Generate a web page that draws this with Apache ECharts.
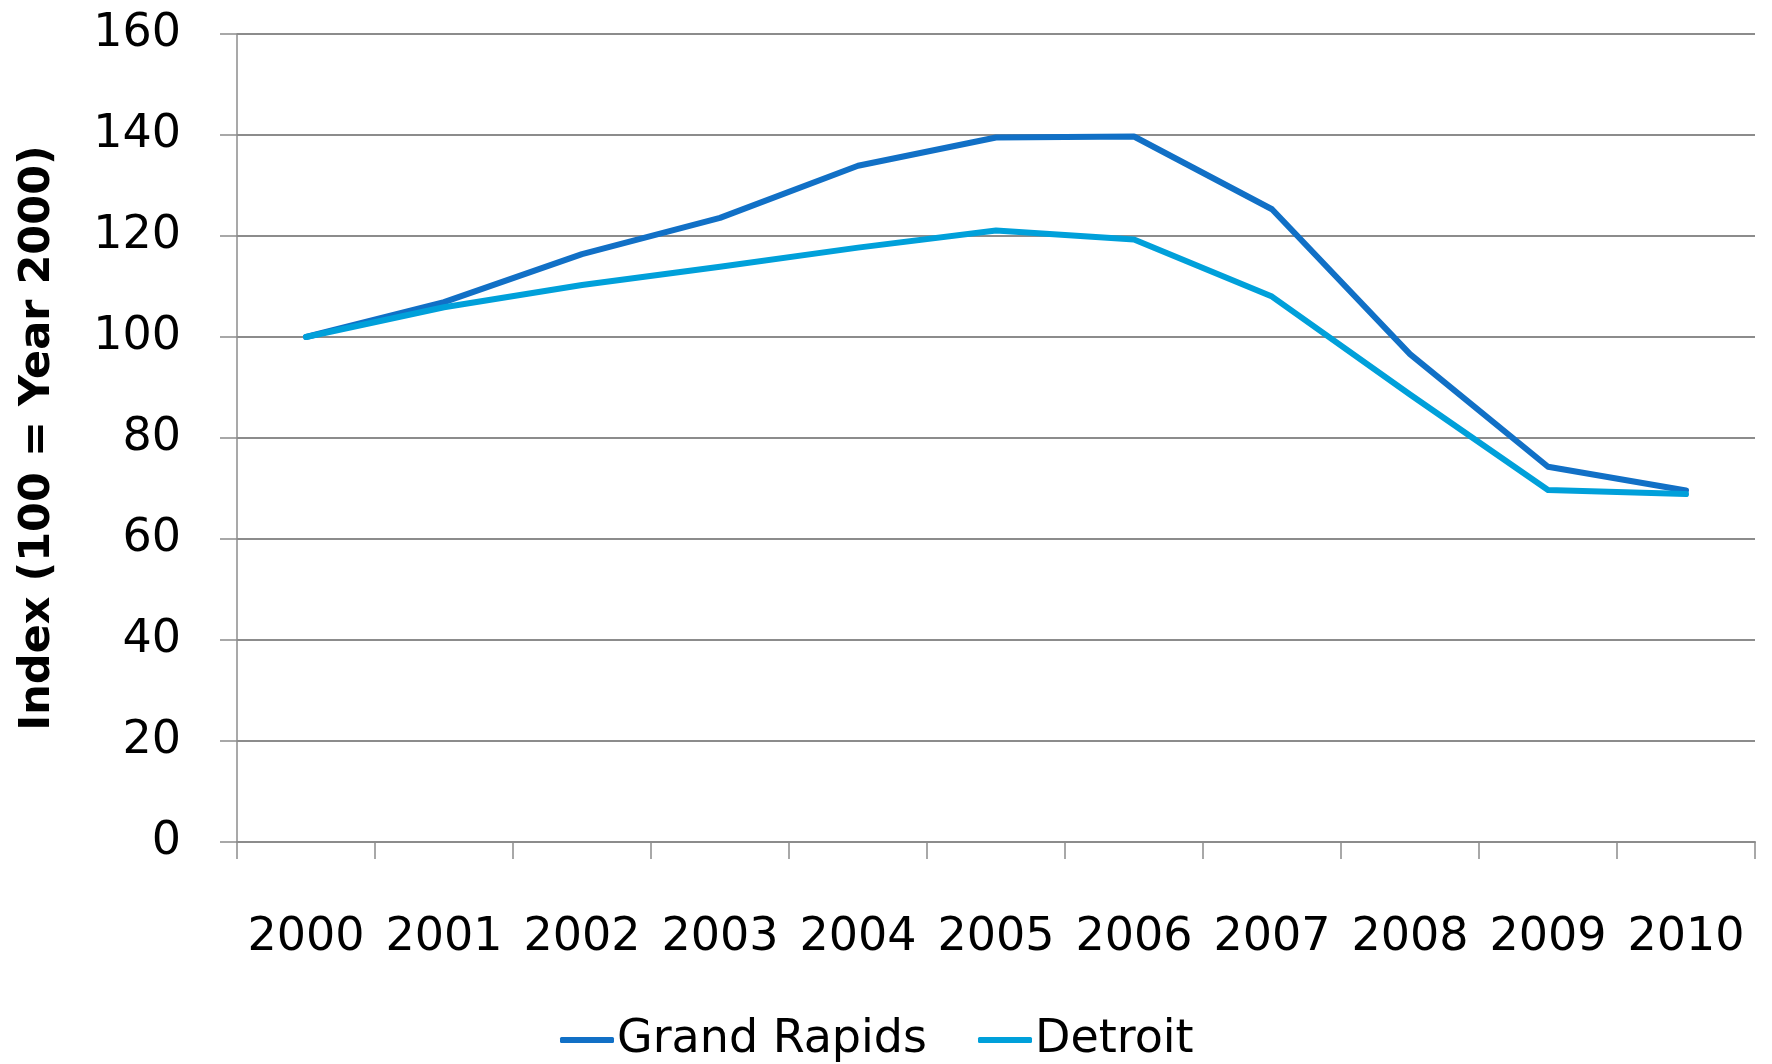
<!DOCTYPE html>
<html>
<head>
<meta charset="utf-8">
<script src="https://cdn.jsdelivr.net/npm/echarts@6/dist/echarts.min.js"></script>
<style>
html,body{margin:0;padding:0;background:#fff;}
#chart{width:1772px;height:1064px;}
</style>
</head>
<body>
<div id="chart"></div>
<script>
const years = ['2000','2001','2002','2003','2004','2005','2006','2007','2008','2009','2010'];
const grandRapids = [100, 106.9, 116.4, 123.6, 133.9, 139.5, 139.7, 125.3, 96.6, 74.3, 69.6];
const detroit = [100, 105.9, 110.3, 113.9, 117.7, 121.1, 119.3, 108.0, 88.6, 69.7, 68.9];
const yMin = 0, yMax = 160, yStep = 20;
const yTitle = 'Index (100 = Year 2000)';

const FONT = 'DejaVu Sans';
const chart = echarts.init(document.getElementById('chart'), null, {renderer: 'canvas'});
chart.setOption({
  backgroundColor: '#ffffff',
  animation: false,
  textStyle: {fontFamily: FONT, color: '#000'},
  grid: {left: 237, right: 17, top: 34, bottom: 222, containLabel: false},
  legend: {
    left: 555, top: 1012,
    icon: 'roundRect',
    itemWidth: 54, itemHeight: 6, itemGap: 51,
    textStyle: {fontFamily: FONT, fontSize: 46, color: '#000', padding: [0,0,0,-2]},
    data: ['Grand Rapids', 'Detroit']
  },
  xAxis: {
    type: 'category',
    data: years,
    boundaryGap: true,
    axisLine: {show: true, lineStyle: {color: '#8c8c8c', width: 2}},
    axisTick: {show: true, length: 17, lineStyle: {color: '#8c8c8c', width: 1.5}},
    axisLabel: {fontFamily: FONT, fontSize: 46, color: '#000', margin: 73, interval: 0},
    splitLine: {show: false}
  },
  yAxis: {
    type: 'value',
    min: yMin, max: yMax, interval: yStep,
    name: yTitle,
    nameLocation: 'middle',
    nameGap: 178,
    nameTextStyle: {fontFamily: FONT, fontSize: 43, fontWeight: 'bold', color: '#000'},
    axisLine: {show: true, lineStyle: {color: '#8c8c8c', width: 1.5}},
    axisTick: {show: true, length: 17, lineStyle: {color: '#8c8c8c', width: 1.5}},
    axisLabel: {fontFamily: FONT, fontSize: 46, color: '#000', margin: 56, padding: [0,0,12,0]},
    splitLine: {show: true, lineStyle: {color: '#8c8c8c', width: 2}}
  },
  series: [
    {
      name: 'Grand Rapids', type: 'line', data: grandRapids,
      showSymbol: false, symbol: 'none', smooth: false,
      color: '#1170C6',
      lineStyle: {color: '#1170C6', width: 6, cap: 'round', join: 'round'}
    },
    {
      name: 'Detroit', type: 'line', data: detroit,
      showSymbol: false, symbol: 'none', smooth: false,
      color: '#00A0DA',
      lineStyle: {color: '#00A0DA', width: 6, cap: 'round', join: 'round'}
    }
  ]
});
</script>
</body>
</html>
